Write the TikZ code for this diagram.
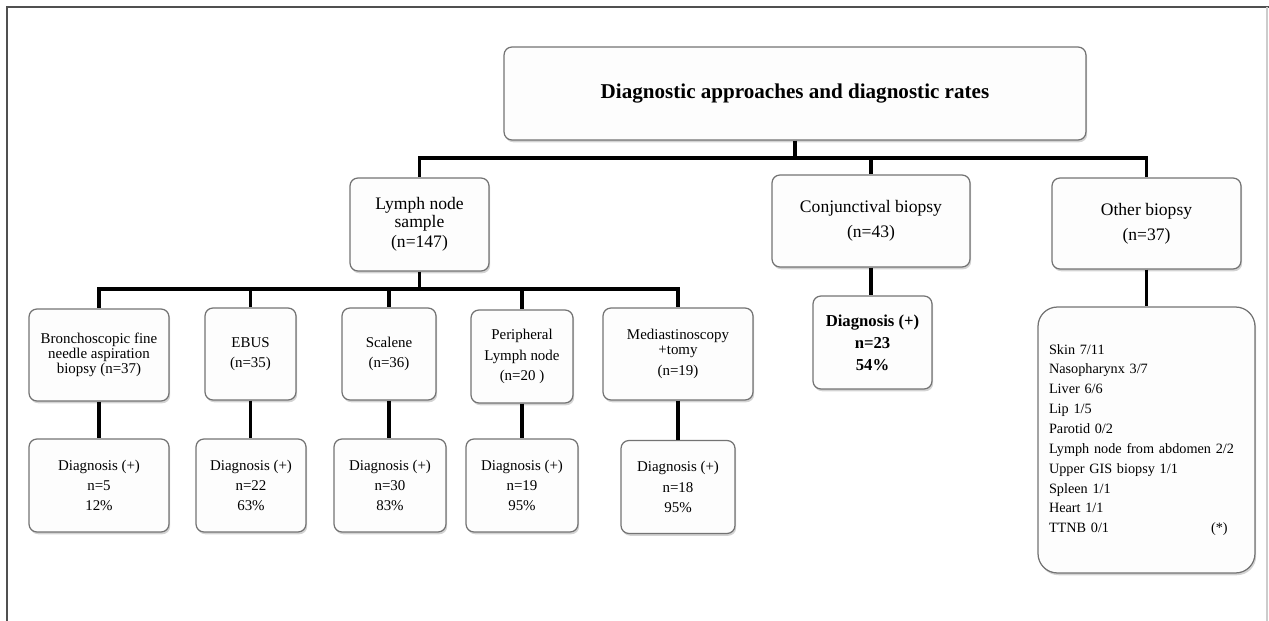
\documentclass[tikz,border=0pt]{standalone}
\usepackage{fontspec}
\setmainfont{Liberation Serif}
\usetikzlibrary{shadows}
\definecolor{boxline}{RGB}{115,115,115}
\definecolor{boxfill}{RGB}{253,253,253}
\definecolor{framegray}{RGB}{80,80,80}

\begin{document}
\begin{tikzpicture}[
	x=0.02cm, y=-0.02cm,
	% Styles for the boxes and the tree connectors
	box/.style={draw=boxline, line width=0.7pt, fill=boxfill, rounded corners=4.5pt, align=center, inner sep=2pt, drop shadow={shadow xshift=0.7pt, shadow yshift=-1.3pt, opacity=0.35}},
	small/.style={font=\fontsize{8.5}{11.6}\selectfont},
	large/.style={font=\fontsize{10}{14}\selectfont},
	link/.style={line width=2.2pt, black}
	]
	\useasboundingbox (0,0) rectangle (1269,621);
	
	% Frame round the figure
	\draw[framegray, line width=0.8pt] (1269,7) -- (7,7) -- (7,621);
	\draw[black!20, line width=0.6pt] (1267,7) -- (1267,621);
	
	% ==========================================
	% 1. TITLE
	% ==========================================
	\node[box, minimum width=11.64cm, minimum height=1.86cm, font=\fontsize{12}{14}\selectfont\bfseries] (title) at (795,93.5) {Diagnostic approaches and diagnostic rates};
	
	% ==========================================
	% 2. SAMPLE TYPES
	% ==========================================
	\node[box, minimum width=2.78cm, minimum height=1.86cm, font=\fontsize{10}{10.2}\selectfont] (lymph) at (419.5,224.5) {Lymph node\\sample\\[1pt](n=147)};
	\node[box, large, minimum width=3.96cm, minimum height=1.84cm] (conj) at (871,221) {Conjunctival biopsy\\(n=43)};
	\node[box, large, minimum width=3.78cm, minimum height=1.82cm] (other) at (1146.5,223.5) {Other biopsy\\(n=37)};
	
	\coordinate (split1) at (795,158);
	\draw[link] (title.south) -- (split1);
	\draw[link] (split1) -| (lymph.north);
	\draw[link] (split1) -| (conj.north);
	\draw[link] (split1) -| (other.north);
	
	% ==========================================
	% 3. LYMPH NODE PROCEDURES
	% ==========================================
	\node[box, minimum width=2.8cm, minimum height=1.84cm, font=\fontsize{8.5}{8.4}\selectfont] (bron) at (99,355) {Bronchoscopic fine\\needle aspiration\\biopsy (n=37)};
	\node[box, small, minimum width=1.82cm, minimum height=1.84cm] (ebus) at (250.5,354) {EBUS\\(n=35)};
	\node[box, small, minimum width=1.88cm, minimum height=1.84cm] (scal) at (389,354) {Scalene\\(n=36)};
	\node[box, small, minimum width=2.04cm, minimum height=1.86cm] (peri) at (522,356.5) {Peripheral\\Lymph node\\(n=20 )};
	\node[box, small, minimum width=3.0cm, minimum height=1.84cm] (medi) at (678,354) {Mediastinoscopy\\[-3pt]+tomy\\(n=19)};
	
	\coordinate (split2) at (419.5,289);
	\draw[link] (lymph.south) -- (split2);
	\draw[link] (split2) -| (bron.north);
	\draw[link] (split2) -| (ebus.north);
	\draw[link] (split2) -| (scal.north);
	\draw[link] (split2) -| (peri.north);
	\draw[link] (split2) -| (medi.north);
	
	% Diagnostic rates per procedure
	\node[box, small, minimum width=2.8cm, minimum height=1.86cm] (diag1) at (99,485.5) {Diagnosis (+)\\n=5\\12\%};
	\node[box, small, minimum width=2.2cm, minimum height=1.86cm] (diag2) at (251,485.5) {Diagnosis (+)\\n=22\\63\%};
	\node[box, small, minimum width=2.24cm, minimum height=1.86cm] (diag3) at (390,485.5) {Diagnosis (+)\\n=30\\83\%};
	\node[box, small, minimum width=2.24cm, minimum height=1.86cm] (diag4) at (522,485.5) {Diagnosis (+)\\n=19\\95\%};
	\node[box, small, minimum width=2.28cm, minimum height=1.86cm] (diag5) at (678,487) {Diagnosis (+)\\n=18\\95\%};
	
	\draw[link] (bron.south) -- (diag1.north);
	\draw[link] (ebus.south) -- (ebus.south |- diag2.north);
	\draw[link] (scal.south) -- (scal.south |- diag3.north);
	\draw[link] (peri.south) -- (diag4.north);
	\draw[link] (medi.south) -- (diag5.north);
	
	% ==========================================
	% 4. CONJUNCTIVAL AND OTHER BIOPSIES
	% ==========================================
	\node[box, minimum width=2.38cm, minimum height=1.86cm, font=\fontsize{9.5}{12.5}\selectfont\bfseries] (conjdiag) at (872.5,342.5) {Diagnosis (+)\\n=23\\54\%};
	\draw[link] (conj.south) -- (conj.south |- conjdiag.north);
	
	\node[box, rounded corners=11pt, minimum width=4.34cm, minimum height=5.32cm, text width=3.9cm, align=left, font=\fontsize{8.1}{11.3}\selectfont] (sites) at (1146.5,440) {Skin 7/11\\Nasopharynx 3/7\\Liver 6/6\\Lip 1/5\\Parotid 0/2\\Lymph node from abdomen 2/2\\Upper GIS biopsy 1/1\\Spleen 1/1\\Heart 1/1\\TTNB 0/1\hspace{2.04cm}(*)};
	\draw[link] (other.south) -- (sites.north);
	
\end{tikzpicture}
\end{document}
